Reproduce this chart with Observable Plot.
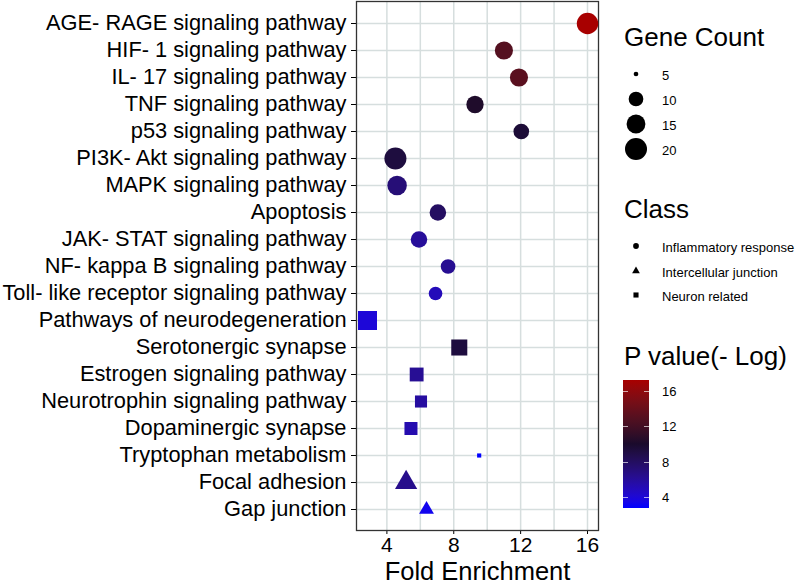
<!DOCTYPE html>
<html><head><meta charset="utf-8">
<script src="https://cdn.jsdelivr.net/npm/d3@7"></script>
<script src="https://cdn.jsdelivr.net/npm/@observablehq/plot@0.6"></script>
<style>
html,body{margin:0;padding:0;background:#fff;}
#wrap{position:relative;width:796px;height:584px;overflow:hidden;font-family:"Liberation Sans",Arial,Helvetica,sans-serif;}
#chart{position:absolute;left:0;top:0;}
.lg{position:absolute;color:#000;white-space:nowrap;}
.ttl{font-size:26px;line-height:26px;}
.row{display:flex;align-items:center;height:20px;font-size:13px;line-height:13px;}
g[aria-label="x-axis label"] text{font-size:25.5px;}
g[aria-label="x-axis tick label"] text{font-size:21px;}
</style></head><body><div id="wrap"><div id="chart"></div></div>
<script>
const terms = [
  "AGE- RAGE signaling pathway","HIF- 1 signaling pathway","IL- 17 signaling pathway",
  "TNF signaling pathway","p53 signaling pathway","PI3K- Akt signaling pathway",
  "MAPK signaling pathway","Apoptosis","JAK- STAT signaling pathway",
  "NF- kappa B signaling pathway","Toll- like receptor signaling pathway",
  "Pathways of neurodegeneration","Serotonergic synapse","Estrogen signaling pathway",
  "Neurotrophin signaling pathway","Dopaminergic synapse","Tryptophan metabolism",
  "Focal adhesion","Gap junction"
];
const foldEnrichment = [16.0, 11.0, 11.9, 9.27, 12.04, 4.51, 4.61, 7.05, 5.92, 7.66, 6.91, 2.84, 8.33, 5.78, 6.04, 5.44, 9.52, 5.15, 6.37];
const geneCount = [19, 14, 14, 13, 11, 20, 16, 12, 12, 10, 9, 19, 14, 11, 9, 10, 5, 12, 7];
const pValue = [17.33, 13.0, 13.3, 10.3, 9.6, 9.3, 7.2, 8.0, 6.0, 6.3, 5.0, 4.0, 9.3, 6.2, 5.8, 5.3, 2.78, 6.5, 3.3];
const classOf = [
  "Inflammatory response","Inflammatory response","Inflammatory response","Inflammatory response",
  "Inflammatory response","Inflammatory response","Inflammatory response","Inflammatory response",
  "Inflammatory response","Inflammatory response","Inflammatory response",
  "Neuron related","Neuron related","Neuron related","Neuron related","Neuron related","Neuron related",
  "Intercellular junction","Intercellular junction"
];
const classNames = ["Inflammatory response","Intercellular junction","Neuron related"];
const classSymbols = ["circle","triangle","square"];
const xTicks = [4, 8, 12, 16];
const xGrid = [4, 6, 8, 10, 12, 14, 16];
const sizeBreaks = [5, 10, 15, 20];
const colorTicks = [4, 8, 12, 16];

const data = terms.map((t, i) => ({term: t, fe: foldEnrichment[i], count: geneCount[i], p: pValue[i], cls: classOf[i]}));
const countMin = 5, countMax = 20;
const sizeT = v => Math.sqrt(Math.max(0, (v - countMin) / (countMax - countMin)));
const rRange = [2.35, 11];
const pExt = d3.extent(pValue);
const pDomain = [pExt[0], (pExt[0] + pExt[1]) / 2, pExt[1]];
const pColors = ["#0000ff", "#1a0a2c", "#a80000"];
const feExt = d3.extent(foldEnrichment);
const pad = 0.05 * (feExt[1] - feExt[0]);
const gridColor = "#d6dede";

const chart = Plot.plot({
  width: 796, height: 584,
  marginLeft: 356, marginRight: 198, marginTop: 1, marginBottom: 54,
  style: {fontFamily: '"Liberation Sans", Arial, Helvetica, sans-serif', fontSize: "21.8px", color: "#000", background: "transparent", overflow: "visible"},
  x: {domain: [feExt[0] - pad, feExt[1] + pad], ticks: xTicks, tickSize: 4, tickPadding: 3,
      label: "Fold Enrichment", labelAnchor: "center", labelOffset: 49, labelArrow: "none"},
  y: {type: "point", domain: terms, padding: 0.6, tickSize: 5, tickPadding: 5, label: null},
  r: {type: "linear", domain: [0, 1], range: rRange},
  color: {type: "linear", domain: pDomain, range: pColors, interpolate: "lab"},
  symbol: {domain: classNames, range: classSymbols},
  marks: [
    Plot.ruleX(xGrid, {stroke: gridColor, strokeWidth: 1.5}),
    Plot.ruleY(terms, {y: d => d, stroke: gridColor, strokeWidth: 1.5}),
    Plot.frame({stroke: "#333", strokeWidth: 1.3}),
    Plot.dot(data, {x: "fe", y: "term", r: d => sizeT(d.count), fill: "p", symbol: "cls"})
  ]
});
document.getElementById("chart").appendChild(chart);

// ---- legends ----
const wrap = d3.select("#wrap");
const legendX = 624, symX = 636, labelX = 662;
function title(text, top) {
  wrap.append("div").attr("class", "lg ttl").style("left", legendX + "px").style("top", top + "px").text(text);
}
function symbolRow(center, symbolPath, label) {
  const row = wrap.append("div").attr("class", "lg row").style("left", (symX - 13) + "px").style("top", (center - 10) + "px");
  const svg = row.append("svg").attr("width", 26).attr("height", 26).style("overflow", "visible").style("margin-top", "-3px");
  svg.append("path").attr("transform", "translate(13,13)").attr("d", symbolPath).attr("fill", "#000");
  row.append("span").style("margin-left", (labelX - symX - 13) + "px").text(label);
}
title("Gene Count", 24);
sizeBreaks.forEach((v, i) => {
  const r = rRange[0] + (rRange[1] - rRange[0]) * sizeT(v);
  symbolRow(75 + i * 25.3, d3.symbol(d3.symbolCircle, Math.PI * r * r)(), String(v));
});
title("Class", 196);
const d3Sym = {circle: d3.symbolCircle, triangle: d3.symbolTriangle, square: d3.symbolSquare};
classNames.forEach((c, i) => {
  symbolRow(247.3 + i * 24.8, d3.symbol(d3Sym[classSymbols[i]], 26)(), c);
});
title("P value(- Log)", 343);
const barTop = 380, barH = 128, barLeft = 623, barW = 26;
const cs = d3.scaleLinear().domain(pDomain).range(pColors).interpolate(d3.interpolateLab);
const stops = d3.range(0, 21).map(i => {
  const v = pExt[0] + (pExt[1] - pExt[0]) * i / 20;
  return cs(v) + " " + (i * 5) + "%";
});
wrap.append("div").attr("class", "lg").style("left", barLeft + "px").style("top", barTop + "px")
  .style("width", barW + "px").style("height", barH + "px")
  .style("background", "linear-gradient(to top," + stops.join(",") + ")");
const barY = d3.scaleLinear().domain(pExt).range([barTop + barH, barTop]);
colorTicks.forEach(v => {
  const y = barY(v);
  [barLeft, barLeft + barW - 5].forEach(x => {
    wrap.append("div").attr("class", "lg").style("left", x + "px").style("top", (y - 0.5) + "px")
      .style("width", "5px").style("height", "1px").style("background", "rgba(255,255,255,0.65)");
  });
  wrap.append("div").attr("class", "lg row").style("left", labelX + "px").style("top", (y - 10) + "px").text(String(v));
});
</script></body></html>
